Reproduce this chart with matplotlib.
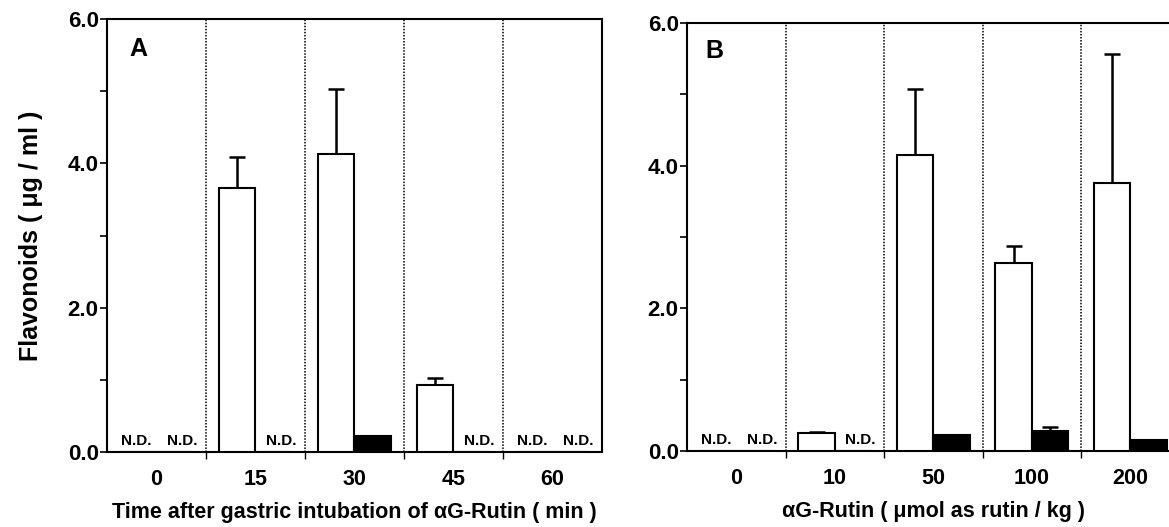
import numpy as np
import matplotlib.pyplot as plt

plt.rcParams['font.family'] = ['Liberation Sans', 'DejaVu Sans']
plt.rcParams['font.weight'] = 'bold'

# panel A: time after gastric intubation (min)
time_labels = ['0', '15', '30', '45', '60']
a_open = [0, 3.66, 4.13, 0.93, 0]
a_open_err = [0, 0.43, 0.90, 0.09, 0]
a_black = [0, 0, 0.22, 0, 0]
a_black_err = [0, 0, 0, 0, 0]
a_nd = [(0, 'open'), (0, 'black'), (1, 'black'), (3, 'black'), (4, 'open'), (4, 'black')]

# panel B: dose (umol as rutin / kg)
dose_labels = ['0', '10', '50', '100', '200']
b_open = [0, 0.25, 4.15, 2.63, 3.75]
b_open_err = [0, 0.02, 0.92, 0.24, 1.82]
b_black = [0, 0, 0.22, 0.28, 0.15]
b_black_err = [0, 0, 0.01, 0.05, 0]
b_nd = [(0, 'open'), (0, 'black'), (1, 'black')]

W = 0.37


def panel(ax, labels, op, op_err, bl, bl_err, nd, letter, lx, ly):
    x = np.arange(len(labels))
    ax.bar(x - W / 2, op, W, color='white', edgecolor='black', linewidth=1.5, zorder=3)
    ax.bar(x + W / 2, bl, W, color='black', edgecolor='black', linewidth=1.5, zorder=3)
    for xi, v, e in zip(x - W / 2, op, op_err):
        if e > 0:
            ax.errorbar(xi, v, yerr=[[0], [e]], color='black', capsize=6, elinewidth=1.8, capthick=1.8, zorder=2)
    for xi, v, e in zip(x + W / 2, bl, bl_err):
        if e > 0:
            ax.errorbar(xi, v, yerr=[[0], [e]], color='black', capsize=6, elinewidth=1.8, capthick=1.8, zorder=2)
    for g, s in nd:
        off = -0.2 if s == 'open' else 0.26
        ax.text(g + off, 0.05, 'N.D.', ha='center', va='bottom', fontsize=11, fontweight='bold')
    for b in np.arange(0.5, len(labels) - 0.5, 1):
        ax.axvline(b, color='black', linestyle=(0, (1, 1)), linewidth=1.1, zorder=1)
    ax.set_xlim(-0.5, len(labels) - 0.5)
    ax.set_ylim(0, 6)
    ax.set_xticks(x)
    ax.set_xticklabels(labels, fontsize=15.5, fontweight='bold')
    ax.set_xticks(np.arange(0.5, len(labels) - 0.5, 1), minor=True)
    ax.tick_params(axis='x', which='major', length=0, pad=12)
    ax.tick_params(axis='x', which='minor', length=5, direction='out', width=1)
    ax.set_yticks([0, 2, 4, 6])
    ax.set_yticklabels(['0.0', '2.0', '4.0', '6.0'], fontsize=16, fontweight='bold')
    ax.set_yticks([1, 3, 5], minor=True)
    ax.tick_params(axis='y', which='both', direction='out', length=5, width=1.2, pad=1)
    for sp in ax.spines.values():
        sp.set_linewidth(1.5)
    ax.text(lx, ly, letter, transform=ax.transAxes, fontsize=18, fontweight='bold', va='center')


fig = plt.figure(figsize=(11.69, 5.27), dpi=100)
ax1 = fig.add_axes([0.0915, 0.1423, 0.4234, 0.8216])
ax2 = fig.add_axes([0.5877, 0.1442, 0.4213, 0.8122])

panel(ax1, time_labels, a_open, a_open_err, a_black, a_black_err, a_nd, 'A', 0.045, 0.93)
panel(ax2, dose_labels, b_open, b_open_err, b_black, b_black_err, b_nd, 'B', 0.037, 0.935)

ax1.set_ylabel('Flavonoids ( \u03bcg / ml )', fontsize=18, fontweight='bold', labelpad=18)
ax1.set_xlabel('Time after gastric intubation of \u03b1G-Rutin ( min )', fontsize=15.5, fontweight='bold', labelpad=9)
ax2.set_xlabel('\u03b1G-Rutin ( \u03bcmol as rutin / kg )', fontsize=15.5, fontweight='bold', labelpad=9)

fig.savefig('out.png', dpi=100)
